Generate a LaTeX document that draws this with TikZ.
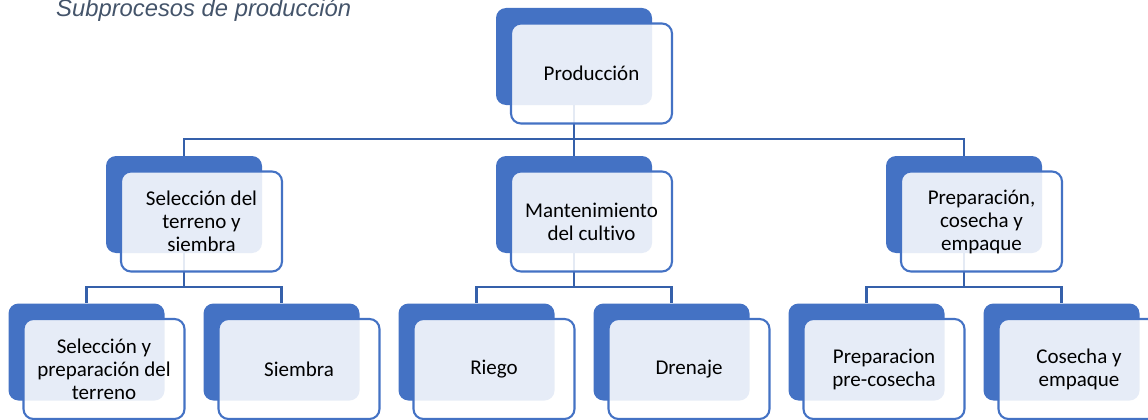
\documentclass[tikz,border=0pt]{standalone}
\usepackage{fontspec}
\setmainfont[Ligatures=NoCommon]{Carlito}
\newfontfamily\titulofont{Liberation Sans}

\definecolor{azul}{HTML}{4472C4}
\definecolor{azulosc}{HTML}{3560AA}
\definecolor{grisazul}{HTML}{44546A}

\tikzset{
  fondo/.style={fill=azul, rounded corners=10pt, minimum width=156pt,
    minimum height=97pt, inner sep=0pt},
  frente/.style={draw=azul, line width=2.1pt, fill=white, fill opacity=0.87,
    text opacity=1, rounded corners=10pt, minimum width=161pt,
    minimum height=100pt, inner sep=0pt, align=center,
    font=\fontsize{21}{23}\selectfont},
  conector/.style={draw=azulosc, line width=2.6pt}
}

\begin{document}
\begin{tikzpicture}[x=1pt,y=-1pt]
  \useasboundingbox (0,0) rectangle (1148,420);

  % Título
  \node[anchor=base west, text=grisazul, inner sep=0pt,
    font=\titulofont\itshape\fontsize{23.8}{28}\selectfont] (titulo) at (56,17)
    {Subprocesos de producción};

  % Parámetros
  \def\dx{17.5} % Desplazamiento en x del recuadro claro
  \def\dy{17} % Desplazamiento en y del recuadro claro

  % Cajas de fondo
  \node[fondo] (prod) at (574,56.5) {};
  \foreach \n/\x in {sel/184, mant/574, prep/964} {
    \node[fondo] (\n) at (\x,204.5) {};
  }
  \foreach \n/\x in {selt/86.5, siem/281.5, rieg/476.5, dren/671.5,
                     prec/866.5, cose/1061.5} {
    \node[fondo] (\n) at (\x,352) {};
  }

  % Conectores
  \coordinate (barra1) at (0,139);
  \coordinate (barra2) at (0,287);
  \foreach \h in {sel, mant, prep} {
    \draw[conector] (prod.south) -- (prod.south |- barra1) -| (\h.north);
  }
  \foreach \p/\a/\b in {sel/selt/siem, mant/rieg/dren, prep/prec/cose} {
    \draw[conector] (\p.south) -- (\p.south |- barra2) -| (\a.north);
    \draw[conector] (\p.south |- barra2) -| (\b.north);
  }

  % Recuadros claros con el texto
  \node[frente] (prod-t) at ([shift={(\dx,\dy)}]prod.center) {Producción};
  \foreach \n/\t in {sel/{Selección del\\terreno y\\siembra},
                     mant/{Mantenimiento\\del cultivo},
                     prep/{Preparación,\\cosecha y\\empaque},
                     selt/{Selección y\\preparación del\\terreno},
                     siem/{Siembra},
                     rieg/{Riego},
                     dren/{Drenaje},
                     prec/{Preparacion\\pre-cosecha},
                     cose/{Cosecha y\\empaque}} {
    \node[frente] (\n-t) at ([shift={(\dx,\dy)}]\n.center) {\t};
  }

\end{tikzpicture}
\end{document}
